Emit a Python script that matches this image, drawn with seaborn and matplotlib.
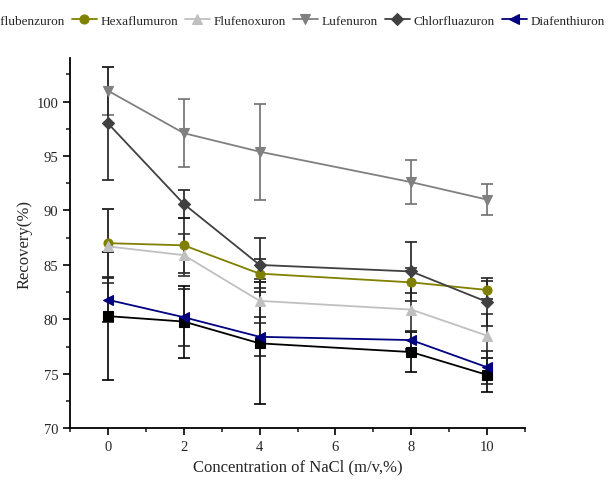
import matplotlib
matplotlib.use('Agg')
import matplotlib.pyplot as plt
import seaborn as sns
import pandas as pd
from matplotlib.ticker import MultipleLocator

# Dados
nacl = [0, 2, 4, 8, 10]
series = ['Diflubenzuron', 'Hexaflumuron', 'Flufenoxuron', 'Lufenuron', 'Chlorfluazuron', 'Diafenthiuron']
diflubenzuron = [80.3, 79.8, 77.8, 77.0, 74.9]
hexaflumuron = [87.0, 86.8, 84.2, 83.4, 82.7]
flufenoxuron = [86.7, 85.9, 81.7, 80.9, 78.5]
lufenuron = [101.0, 97.1, 95.4, 92.6, 91.0]
chlorfluazuron = [98.0, 90.6, 85.0, 84.4, 81.6]
diafenthiuron = [81.8, 80.2, 78.4, 78.1, 75.6]

err_diflubenzuron = [5.9, 3.3, 5.6, 1.8, 1.6]
err_hexaflumuron = [3.1, 2.5, 1.3, 1.0, 0.8]
err_flufenoxuron = [3.4, 1.9, 2.0, 3.8, 2.0]
err_lufenuron = [2.2, 3.1, 4.4, 2.0, 1.4]
err_chlorfluazuron = [5.2, 1.3, 2.5, 2.7, 2.2]
err_diafenthiuron = [2.0, 2.6, 1.8, 0.8, 1.5]

valores = [diflubenzuron, hexaflumuron, flufenoxuron, lufenuron, chlorfluazuron, diafenthiuron]
erros = [err_diflubenzuron, err_hexaflumuron, err_flufenoxuron, err_lufenuron, err_chlorfluazuron, err_diafenthiuron]

df = pd.DataFrame([
    {'NaCl': x, 'Recovery': v, 'Erro': e, 'Composto': s}
    for s, vals, errs in zip(series, valores, erros)
    for x, v, e in zip(nacl, vals, errs)
])

cores = {'Diflubenzuron': '#000000', 'Hexaflumuron': '#808000', 'Flufenoxuron': '#c0c0c0',
         'Lufenuron': '#808080', 'Chlorfluazuron': '#404040', 'Diafenthiuron': '#000080'}
marcadores = {'Diflubenzuron': 's', 'Hexaflumuron': 'o', 'Flufenoxuron': '^',
              'Lufenuron': 'v', 'Chlorfluazuron': 'D', 'Diafenthiuron': '<'}
cores_erro = {'Diflubenzuron': '#000000', 'Hexaflumuron': '#202020', 'Flufenoxuron': '#303030',
              'Lufenuron': '#707070', 'Chlorfluazuron': '#202020', 'Diafenthiuron': '#202020'}

sns.set_style('ticks')
plt.rcParams['font.family'] = ['Liberation Serif', 'DejaVu Serif']

fig = plt.figure(figsize=(6.1, 4.81), dpi=100)
ax = fig.add_axes([0.1148, 0.1075, 0.746, 0.7698])

# Barras de erro
for s in series:
    d = df[df['Composto'] == s]
    ax.errorbar(d['NaCl'], d['Recovery'], yerr=d['Erro'], fmt='none',
                ecolor=cores_erro[s], elinewidth=1.2, capsize=4, capthick=1.2, zorder=2)

n_antes = len(ax.lines)
sns.lineplot(data=df, x='NaCl', y='Recovery', hue='Composto', style='Composto',
             palette=cores, markers=marcadores, dashes=False, markersize=6.5,
             markeredgewidth=0.8, linewidth=1.3, ax=ax, legend=True, zorder=3)

for line in ax.lines[n_antes:]:
    line.set_markeredgecolor(line.get_color())

handles, labels = ax.get_legend_handles_labels()
ax.get_legend().remove()
for h in handles:
    h.set_markeredgecolor(h.get_color())
fig.legend(handles, labels, loc='center left', ncol=6, bbox_to_anchor=(-0.068, 0.955),
           frameon=False, fontsize=9.5, handlelength=1.9, handletextpad=0.3,
           columnspacing=0.5, borderaxespad=0, borderpad=0)

ax.set_xlim(-1, 11)
ax.set_ylim(70, 104)
ax.xaxis.set_major_locator(MultipleLocator(2))
ax.xaxis.set_minor_locator(MultipleLocator(1))
ax.yaxis.set_major_locator(MultipleLocator(5))
ax.yaxis.set_minor_locator(MultipleLocator(2.5))
ax.tick_params(which='major', length=5, width=1.2, labelsize=10.5, color='black')
ax.tick_params(which='minor', length=3, width=1.2)
ax.set_xlabel('Concentration of NaCl (m/v,%)', fontsize=12)
ax.set_ylabel('Recovery(%)', fontsize=12)
ax.yaxis.set_label_coords(-0.083, 0.5)
sns.despine(ax=ax)
for sp in ['left', 'bottom']:
    ax.spines[sp].set_linewidth(1.3)
    ax.spines[sp].set_color('black')

plt.savefig('out.png', dpi=100)
